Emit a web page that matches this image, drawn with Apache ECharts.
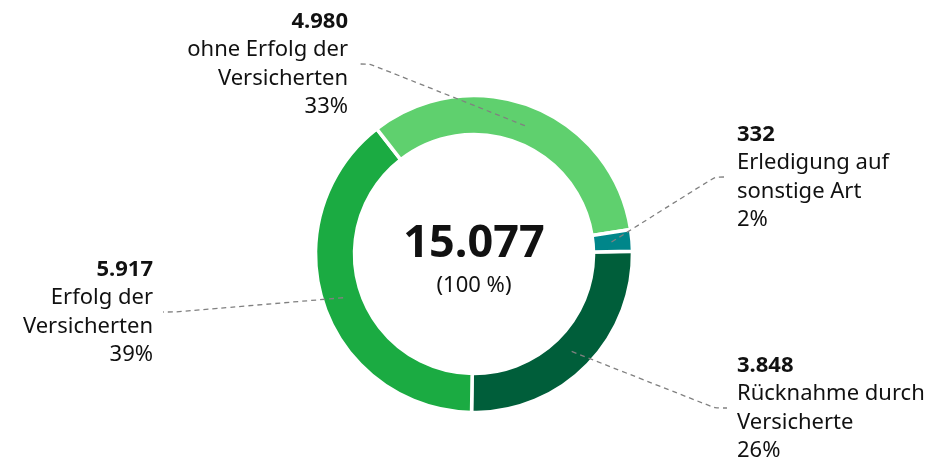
<!DOCTYPE html>
<html>
<head>
<meta charset="utf-8">
<script src="https://cdn.jsdelivr.net/npm/echarts@6/dist/echarts.min.js"></script>
<style>
  html, body { margin: 0; padding: 0; background: #fff; }
  #main { width: 947px; height: 460px; }
</style>
</head>
<body>
<div id="main"></div>
<script>
var categories = [
  "Rücknahme durch\nVersicherte",
  "Erfolg der\nVersicherten",
  "ohne Erfolg der\nVersicherten",
  "Erledigung auf\nsonstige Art"
];
var values = [3848, 5917, 4980, 332];
var colors = ["#005e3a", "#1bab42", "#5fd06e", "#00868a"];

var total = values.reduce(function (a, b) { return a + b; }, 0);

// Tausenderpunkt
function fmt(v) {
  return String(v).replace(/\B(?=(\d{3})+(?!\d))/g, ".");
}

var center = [474, 254];
var startAngle = 1;
var lineRadius = 138;
// where each label sits: [x, y, align]
var labelSpots = [
  [737, 408, "left"],
  [153, 312, "right"],
  [348, 64, "right"],
  [737, 177, "left"]
];

function midPoint(i) {
  var before = 0;
  for (var k = 0; k < i; k++) before += values[k];
  var a = (startAngle - (before + values[i] / 2) / total * 360) * Math.PI / 180;
  return [center[0] + lineRadius * Math.cos(a), center[1] - lineRadius * Math.sin(a)];
}

var pieData = values.map(function (v, i) {
  return { value: v, name: categories[i], itemStyle: { color: colors[i] } };
});

var myChart = echarts.init(document.getElementById("main"));
var option = {
  animation: false,
  graphic: [
    {
      type: "text",
      x: center[0],
      y: 244,
      style: {
        text: fmt(total),
        font: 'bold 45px "Noto Sans"',
        fill: "#111",
        align: "center",
        verticalAlign: "middle",
        textAlign: "center",
        textVerticalAlign: "middle"
      }
    },
    {
      type: "text",
      x: center[0],
      y: 286,
      style: {
        text: "(100 %)",
        font: '22px "Noto Sans"',
        fill: "#111",
        align: "center",
        verticalAlign: "middle",
        textAlign: "center",
        textVerticalAlign: "middle"
      }
    }
  ],
  series: [
    {
      // the ring
      type: "pie",
      center: center,
      radius: [119.5, 158.5],
      startAngle: startAngle,
      silent: true,
      z: 2,
      itemStyle: { borderColor: "#fff", borderWidth: 3.5 },
      label: { show: false },
      labelLine: { show: false },
      data: pieData
    },
    {
      // invisible copy that carries the labels and dashed lines
      type: "pie",
      center: center,
      radius: [0, lineRadius],
      startAngle: startAngle,
      silent: true,
      z: 3,
      avoidLabelOverlap: false,
      itemStyle: { color: "rgba(0,0,0,0)" },
      label: {
        show: true,
        position: "outside",
        fontFamily: "Noto Sans",
        formatter: function (p) {
          return "{b|" + fmt(p.value) + "}\n{t|" + p.name.split("\n").join("}\n{t|") +
            "}\n{t|" + Math.round(p.percent) + "%}";
        },
        rich: {
          b: { fontSize: 22, fontWeight: "bold", color: "#111", lineHeight: 28.5, fontFamily: "Noto Sans" },
          t: { fontSize: 22, color: "#111", lineHeight: 28.5, fontFamily: "Noto Sans" }
        }
      },
      labelLine: {
        show: true,
        smooth: 0.2,
        lineStyle: { color: "#808080", width: 1.3, type: [5, 4] }
      },
      labelLayout: function (params) {
        var s = labelSpots[params.dataIndex];
        var side = s[2] === "left" ? -1 : 1;
        var end = [s[0] + side * 10, s[1]];
        var bend = [s[0] + side * 22, s[1]];
        return {
          x: s[0],
          y: s[1],
          align: s[2],
          verticalAlign: "middle",
          labelLinePoints: [midPoint(params.dataIndex), bend, end]
        };
      },
      data: pieData.map(function (d) {
        return { value: d.value, name: d.name, itemStyle: { color: "rgba(0,0,0,0)" } };
      })
    }
  ]
};
myChart.setOption(option);
</script>
</body>
</html>
